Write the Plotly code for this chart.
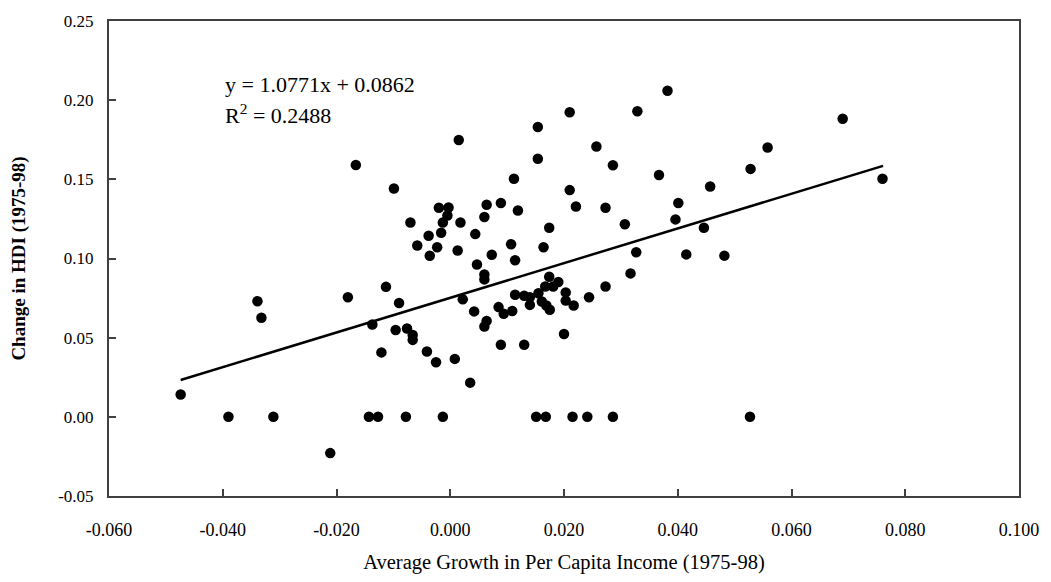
import plotly.graph_objects as go

# Average growth in per capita income (1975-98)
growth = [
    -0.0474, -0.0339, -0.0332, -0.0211, -0.0180, -0.0166, -0.0137, -0.0121, -0.0113, -0.0099,
    -0.0096, -0.0090, -0.0076, -0.0070, -0.0066, -0.0066, -0.0058, -0.0041, -0.0038, -0.0036,
    -0.0025, -0.0023, -0.0020, -0.0016, -0.0013, -0.0005, -0.0003, 0.0008, 0.0015, 0.0013,
    0.0018, 0.0022, 0.0035, 0.0042, 0.0044, 0.0047, 0.0060, 0.0060, 0.0060, 0.0060,
    0.0064, 0.0064, 0.0073, 0.0085, 0.0089, 0.0089, 0.0094, 0.0107, 0.0109, 0.0112,
    0.0114, 0.0114, 0.0119, 0.0130, 0.0130, 0.0140, 0.0140, 0.0154, 0.0154, 0.0155,
    0.0161, 0.0164, 0.0167, 0.0169, 0.0174, 0.0174, 0.0175, 0.0181, 0.0190, 0.0200,
    0.0203, 0.0203, 0.0210, 0.0210, 0.0217, 0.0221, 0.0244, 0.0257, 0.0273, 0.0273,
    0.0286, 0.0307, 0.0317, 0.0327, 0.0329, 0.0367, 0.0382, 0.0396, 0.0401, 0.0415,
    0.0446, 0.0457, 0.0482, 0.0528, 0.0558, 0.0690, 0.0760,
    # countries with no recorded HDI change
    -0.0390, -0.0311, -0.0143, -0.0127, -0.0078, -0.0013, 0.0151, 0.0168, 0.0215, 0.0241,
    0.0286, 0.0527,
]

# Change in HDI (1975-98)
hdi_change = [
    0.0141, 0.0730, 0.0626, -0.0229, 0.0755, 0.1591, 0.0583, 0.0407, 0.0821, 0.1442,
    0.0548, 0.0719, 0.0558, 0.1227, 0.0517, 0.0486, 0.1082, 0.0413, 0.1144, 0.1017,
    0.0345, 0.1071, 0.1320, 0.1163, 0.1227, 0.1272, 0.1322, 0.0366, 0.1748, 0.1051,
    0.1227, 0.0742, 0.0216, 0.0666, 0.1154, 0.0962, 0.0899, 0.0868, 0.1262, 0.0571,
    0.0606, 0.1339, 0.1024, 0.0693, 0.1351, 0.0455, 0.0651, 0.1090, 0.0668, 0.1504,
    0.0989, 0.0771, 0.1303, 0.0455, 0.0765, 0.0755, 0.0707, 0.1831, 0.1630, 0.0781,
    0.0728, 0.1071, 0.0823, 0.0703, 0.1194, 0.0885, 0.0676, 0.0823, 0.0852, 0.0523,
    0.0786, 0.0734, 0.1924, 0.1432, 0.0703, 0.1328, 0.0755, 0.1707, 0.1320, 0.0823,
    0.1589, 0.1216, 0.0906, 0.1040, 0.1930, 0.1527, 0.2059, 0.1247, 0.1351, 0.1026,
    0.1194, 0.1455, 0.1018, 0.1566, 0.1701, 0.1883, 0.1504,
    0.0, 0.0, 0.0, 0.0, 0.0, 0.0, 0.0, 0.0, 0.0, 0.0,
    0.0, 0.0,
]

# Linear trend line as drawn (end points)
trend_x = [-0.0474, 0.0761]
trend_y = [0.0233, 0.1585]

x_ticks = [-0.06, -0.04, -0.02, 0.0, 0.02, 0.04, 0.06, 0.08, 0.10]
y_ticks = [-0.05, 0.0, 0.05, 0.10, 0.15, 0.20, 0.25]

equation_lines = ["y = 1.0771x + 0.0862", "R<sup>2</sup> = 0.2488"]

FONT = "Liberation Serif, Times New Roman, serif"

fig = go.Figure()
fig.add_trace(go.Scatter(
    x=growth, y=hdi_change, mode="markers",
    marker=dict(color="black", size=10.5, line=dict(width=0)),
    showlegend=False, hoverinfo="x+y",
))
fig.add_trace(go.Scatter(
    x=trend_x, y=trend_y, mode="lines",
    line=dict(color="black", width=2.5),
    showlegend=False, hoverinfo="skip",
))

fig.update_layout(
    width=1051, height=582,
    margin=dict(l=109, r=28, t=14, b=85),
    paper_bgcolor="white", plot_bgcolor="white",
    font=dict(family=FONT, color="black", size=16),
    xaxis=dict(
        range=[-0.06, 0.10],
        tickvals=x_ticks,
        ticktext=[f"{v:.3f}" for v in x_ticks],
        ticks="inside", ticklen=7, tickcolor="#404040", tickwidth=1.5,
        showline=True, linecolor="#404040", linewidth=2, mirror=True,
        showgrid=False, zeroline=False,
        tickfont=dict(family=FONT, size=18),
        ticklabelstandoff=16,
        title=dict(text="Average Growth in Per Capita Income (1975-98)",
                   font=dict(family=FONT, size=20.5), standoff=16),
    ),
    yaxis=dict(
        range=[-0.05, 0.25],
        tickvals=y_ticks,
        ticktext=[f"{v:.2f}" for v in y_ticks],
        ticks="inside", ticklen=7, tickcolor="#404040", tickwidth=1.5,
        showline=True, linecolor="#404040", linewidth=2, mirror=True,
        showgrid=False, zeroline=False,
        tickfont=dict(family=FONT, size=17),
        ticklabelstandoff=10,
        title=dict(text="<b>Change in HDI (1975-98)</b>",
                   font=dict(family=FONT, size=19), standoff=28),
    ),
    annotations=[
        dict(text=equation_lines[0], xref="x", yref="y", x=-0.0399, y=0.2096,
             xanchor="left", yanchor="middle", showarrow=False,
             font=dict(family=FONT, size=22, color="black")),
        dict(text=equation_lines[1], xref="x", yref="y", x=-0.0399, y=0.1911,
             xanchor="left", yanchor="middle", showarrow=False,
             font=dict(family=FONT, size=22, color="black")),
    ],
)

fig.write_html("out.html")
